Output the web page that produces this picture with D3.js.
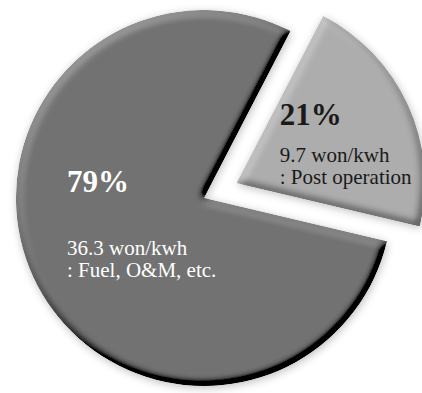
<!DOCTYPE html>
<html>
<head>
<meta charset="utf-8">
<script src="https://cdn.jsdelivr.net/npm/d3@7"></script>
<style>
  html, body { margin: 0; padding: 0; background: #fff; }
  svg { display: block; }
</style>
</head>
<body>
<svg id="chart" width="422" height="393"></svg>
<script>
// Cost components (won/kWh)
const categories = ["Post operation", "Fuel, O&M, etc."];
const costs = [9.7, 36.3];
const shareLabels = ["21%", "79%"];
const costLabels = ["9.7 won/kwh", "36.3 won/kwh"];
const descLabels = [": Post operation", ": Fuel, O&M, etc."];

const fills = ["#adadad", "#727272"];
const pctColors = ["#1a1a1a", "#ffffff"];
const textColors = ["#1a1a1a", "#ffffff"];

const svg = d3.select("#chart");
const cx = 204, cy = 198, radius = 188, explode = 36;
const startDeg = 27.4;

const defs = svg.append("defs");

// soft drop shadow behind the pie
const shadow = defs.append("filter").attr("id", "shadow")
  .attr("x", "-20%").attr("y", "-20%").attr("width", "140%").attr("height", "140%");
shadow.append("feGaussianBlur").attr("in", "SourceAlpha").attr("stdDeviation", 4).attr("result", "b");
shadow.append("feOffset").attr("in", "b").attr("dx", 1).attr("dy", 2).attr("result", "o");
shadow.append("feComponentTransfer").attr("in", "o").attr("result", "s")
  .append("feFuncA").attr("type", "linear").attr("slope", 0.25);

// bevelled edge lighting for each slice
const bevel = defs.append("filter").attr("id", "bevel")
  .attr("x", "-10%").attr("y", "-10%").attr("width", "120%").attr("height", "120%");
bevel.append("feGaussianBlur").attr("in", "SourceAlpha").attr("stdDeviation", 4).attr("result", "blur");
const light = bevel.append("feDiffuseLighting").attr("in", "blur")
  .attr("surfaceScale", 6).attr("diffuseConstant", 1)
  .attr("lighting-color", "#ffffff").attr("result", "lit");
light.append("feDistantLight").attr("azimuth", 235).attr("elevation", 45);
bevel.append("feComposite").attr("in", "SourceGraphic").attr("in2", "lit")
  .attr("operator", "arithmetic")
  .attr("k1", 0).attr("k2", 1).attr("k3", 0.42).attr("k4", -0.42 * Math.SQRT1_2)
  .attr("result", "shaded");
bevel.append("feComposite").attr("in", "shaded").attr("in2", "SourceAlpha").attr("operator", "in");

const pie = d3.pie().sort(null)
  .startAngle(startDeg * Math.PI / 180)
  .endAngle(startDeg * Math.PI / 180 + 2 * Math.PI);
const arcs = pie(costs);
const arc = d3.arc().innerRadius(0).outerRadius(radius);

const offsets = arcs.map((d, i) => {
  if (i !== 0) return [0, 0];
  const mid = (d.startAngle + d.endAngle) / 2;
  return [Math.sin(mid) * explode, -Math.cos(mid) * explode];
});

const root = svg.append("g").attr("transform", `translate(${cx},${cy})`);

// shadows
root.append("g").attr("filter", "url(#shadow)")
  .selectAll("path").data(arcs).join("path")
  .attr("transform", (d, i) => `translate(${offsets[i][0]},${offsets[i][1]})`)
  .attr("d", arc).attr("fill", "#000");

// slices
root.selectAll("path.slice").data(arcs).join("path")
  .attr("class", "slice")
  .attr("transform", (d, i) => `translate(${offsets[i][0]},${offsets[i][1]})`)
  .attr("d", arc)
  .attr("fill", (d, i) => fills[i])
  .attr("filter", "url(#bevel)");

// text placement relative to each slice's own centre
const labelPos = [[43, -58], [-137, -6]];
const serif = "'Liberation Serif', 'Times New Roman', serif";

arcs.forEach((d, i) => {
  const [ox, oy] = offsets[i];
  const g = root.append("g").attr("transform", `translate(${ox + labelPos[i][0]},${oy + labelPos[i][1]})`);
  g.append("text").text(shareLabels[i])
    .attr("x", 0).attr("y", 0)
    .attr("font-family", serif).attr("font-weight", "bold").attr("font-size", 31)
    .attr("fill", pctColors[i]);
  const gap = i === 0 ? 37 : 63;
  g.append("text").text(costLabels[i])
    .attr("x", 0).attr("y", gap)
    .attr("font-family", serif).attr("font-size", 21)
    .attr("fill", textColors[i]);
  g.append("text").text(descLabels[i])
    .attr("x", 0).attr("y", gap + 22)
    .attr("font-family", serif).attr("font-size", 21)
    .attr("fill", textColors[i]);
});
</script>
</body>
</html>
